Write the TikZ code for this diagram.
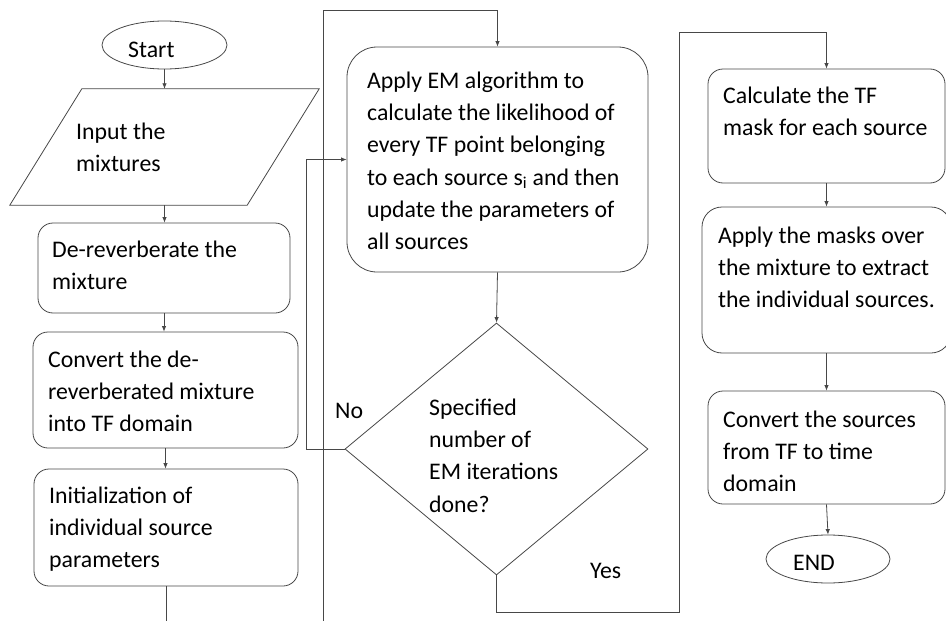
\documentclass[tikz,border=0pt]{standalone}
\usepackage{fontspec}
\setmainfont{Carlito}
\usetikzlibrary{shapes.geometric,arrows.meta}

% multi-line label whose reference point is the baseline of its first line
\newcommand\flowtext[1]{\parbox[t]{290pt}{\raggedright #1}}

\begin{document}
\begin{tikzpicture}[x=1pt,y=-1pt,
  line/.style={draw=black!72, line width=0.8pt},
  arr/.style={line, -{Latex[length=5.5pt,width=4.5pt]}},
  box/.style={line, rectangle, rounded corners=15pt, inner sep=0pt},
  oval/.style={line, ellipse, inner sep=0pt},
  txt/.style={anchor=base west, inner sep=0pt, text=black,
              font=\fontsize{23.8}{32.4}\selectfont},
]
\useasboundingbox (0,0) rectangle (946,621);
\clip (0,0) rectangle (946,621);

% ---- left column
\node[oval, minimum width=125pt, minimum height=48pt] (start) at (164.5,45) {};
\node[inner sep=0pt, minimum width=309pt, minimum height=116pt] (input) at (164.5,147) {};
\draw[line] ([xshift=72pt]input.north west) -- (input.north east)
  -- ([xshift=-72pt]input.south east) -- (input.south west) -- cycle;
\node[box, minimum width=252pt, minimum height=90pt] (derev) at (164,268) {};
\node[box, minimum width=265pt, minimum height=116pt] (conv) at (165.5,390) {};
\node[box, minimum width=264pt, minimum height=117pt] (init) at (166,527.5) {};

% ---- middle column
\node[box, rounded corners=30pt, minimum width=301pt, minimum height=225pt] (em) at (497.5,159.5) {};
\node[line, diamond, inner sep=0pt, minimum width=303pt, minimum height=252pt] (test) at (496.5,449) {};

% ---- right column
\node[box, minimum width=237pt, minimum height=114pt] (mask) at (826.5,126) {};
\node[box, rounded corners=20pt, minimum width=249pt, minimum height=146pt] (apply) at (826.5,280) {};
\node[box, minimum width=237pt, minimum height=113pt] (tdom) at (826.5,447.5) {};
\node[oval, minimum width=124pt, minimum height=48pt] (end) at (828,559) {};

% ---- connectors
\draw[arr] (start.south) -- (input.north);
\draw[arr] (input.south) -- (input.south |- derev.north);
\draw[arr] (derev.south) -- (derev.south |- conv.north);
\draw[arr] (conv.south) -- (conv.south |- init.north);
\draw[arr] (init.south) -- (init.south |- 0,640) -- (323,640) -- (323,10) -| (em.north);
\draw[arr] (em.south) -- (test.north);
\draw[arr] (test.west) -- (306,449) |- (em.west);
\draw[arr] (test.south) -- (496.5,612) -| (679,32) -| (mask.north);
\draw[arr] (mask.south) -- (apply.north);
\draw[arr] (apply.south) -- (tdom.north);
\draw[arr] (tdom.south) -- (end.north);

% ---- texts
\node[txt] (tstart) at (128,57) {Start};
\node[txt] (tinput) at (76,139) {\flowtext{Input the\\mixtures}};
\node[txt] (tderev) at (52,257) {\flowtext{De-reverberate the\\mixture}};
\node[txt] (tconv) at (48,367) {\flowtext{Convert the de-\\reverberated mixture\\into TF domain}};
\node[txt] (tinit) at (49,503) {\flowtext{Initialization of\\individual source\\parameters}};
\node[txt] (tem) at (367,88) {\flowtext{Apply EM algorithm to\\calculate the likelihood of\\every TF point belonging\\to each source s\textsubscript{i} and then\\update the parameters of\\all sources}};
\node[txt] (ttest) at (429,415) {\flowtext{Specified\\number of\\EM iterations\\done?}};
\node[txt] (tno) at (335,418) {No};
\node[txt] (tyes) at (590,578) {Yes};
\node[txt] (tmask) at (723,103) {\flowtext{Calculate the TF\\mask for each source}};
\node[txt] (tapply) at (718,243) {\flowtext{Apply the masks over\\the mixture to extract\\the individual sources.}};
\node[txt] (ttdom) at (723,427) {\flowtext{Convert the sources\\from TF to time\\domain}};
\node[txt] (tend) at (793,570) {END};
\end{tikzpicture}
\end{document}
